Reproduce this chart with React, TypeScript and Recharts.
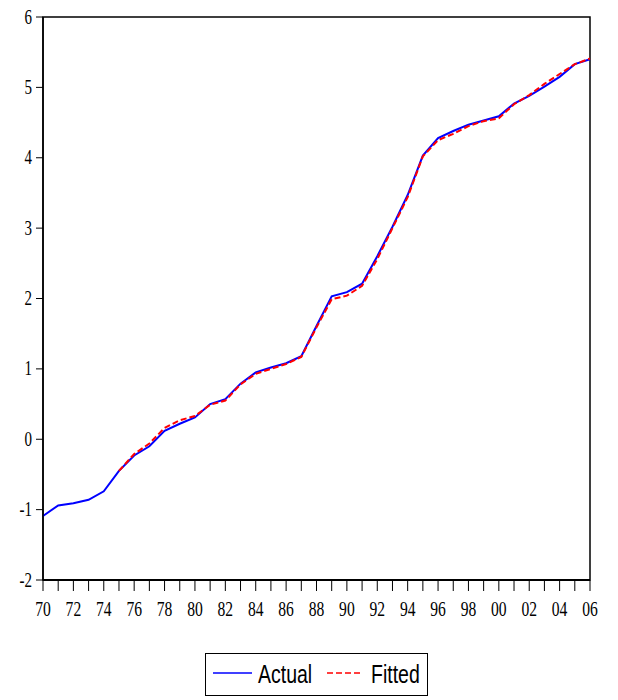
import { Legend, Line, LineChart, ReferenceArea, XAxis, YAxis } from "recharts";

const years = [
    1970, 1971, 1972, 1973, 1974, 1975, 1976, 1977, 1978, 1979,
    1980, 1981, 1982, 1983, 1984, 1985, 1986, 1987, 1988, 1989,
    1990, 1991, 1992, 1993, 1994, 1995, 1996, 1997, 1998, 1999,
    2000, 2001, 2002, 2003, 2004, 2005, 2006,
];

const actual = [
    -1.09, -0.94, -0.91, -0.86, -0.74, -0.45, -0.23, -0.10, 0.12, 0.22,
    0.31, 0.50, 0.57, 0.79, 0.95, 1.02, 1.08, 1.18, 1.61, 2.03,
    2.09, 2.21, 2.60, 3.02, 3.47, 4.03, 4.28, 4.38, 4.47, 4.53,
    4.59, 4.77, 4.88, 5.01, 5.15, 5.33, 5.40,
];

const fitted: (number | null)[] = [
    null, null, null, null, null, -0.45, -0.21, -0.06, 0.16, 0.27,
    0.33, 0.49, 0.55, 0.78, 0.93, 1.00, 1.07, 1.17, 1.59, 1.99,
    2.04, 2.18, 2.56, 3.00, 3.44, 4.02, 4.25, 4.34, 4.45, 4.52,
    4.56, 4.76, 4.89, 5.05, 5.19, 5.33, 5.41,
];

const yTicks = [-2, -1, 0, 1, 2, 3, 4, 5, 6];

const data = years.map((year, i) => ({ year, actual: actual[i], fitted: fitted[i] }));

const serif = "'Liberation Serif', 'Times New Roman', serif";
const sans = "'Liberation Sans', Arial, sans-serif";

const XTick = ({ x, y, payload }: any) => {
    const yr = payload.value as number;
    return (
        <g>
            <line x1={x} x2={x} y1={y} y2={y + 11} stroke="#000" strokeWidth={1} />
            {yr % 2 === 0 && (
                <text
                    transform={`translate(${x},${y + 36}) scale(0.78,1)`}
                    textAnchor="middle"
                    fontFamily={serif}
                    fontSize={20}
                    fill="#000"
                >
                    {String(yr % 100).padStart(2, "0")}
                </text>
            )}
        </g>
    );
};

const YTick = ({ x, y, payload }: any) => (
    <text
        transform={`translate(${x - 2},${y + 6.5}) scale(0.75,1)`}
        textAnchor="end"
        fontFamily={serif}
        fontSize={20}
        fill="#000"
    >
        {payload.value}
    </text>
);

const LegendBox = () => (
    <svg width={224} height={44}>
        <rect x={0.5} y={0.5} width={222} height={42} fill="#fff" stroke="#000" strokeWidth={1} />
        <line x1={8} x2={47} y1={20} y2={20} stroke="#0000ff" strokeWidth={1.5} />
        <text transform="translate(53,30) scale(0.75,1)" fontFamily={sans} fontSize={26} fill="#000">Actual</text>
        <line x1={122} x2={158} y1={20} y2={20} stroke="#ff0000" strokeWidth={1.5} strokeDasharray="6 3" />
        <text transform="translate(166,30) scale(0.75,1)" fontFamily={sans} fontSize={26} fill="#000">Fitted</text>
    </svg>
);

export default function App() {
    return (
        <div style={{ position: "absolute", left: 0, top: 0, width: 618, height: 700, background: "#fff" }}>
            <LineChart width={618} height={700} data={data} margin={{ top: 17, right: 28, left: 0, bottom: 80 }}>
                <XAxis
                    dataKey="year"
                    type="number"
                    domain={[1970, 2006]}
                    ticks={years}
                    interval={0}
                    height={40}
                    tickLine={false}
                    tickSize={0}
                    tickMargin={0}
                    tick={<XTick />}
                    axisLine={{ stroke: "#000", strokeWidth: 2 }}
                />
                <YAxis
                    type="number"
                    domain={[-2, 6]}
                    ticks={yTicks}
                    interval={0}
                    width={43}
                    tickSize={7}
                    tickLine={{ stroke: "#000", strokeWidth: 1 }}
                    tick={<YTick />}
                    axisLine={{ stroke: "#000", strokeWidth: 1.5 }}
                />
                <ReferenceArea x1={1970} x2={2006} y1={-2} y2={6} fill="none" stroke="#000" strokeWidth={1.5} />
                <Line
                    dataKey="actual"
                    name="Actual"
                    stroke="#0000ff"
                    strokeWidth={2}
                    dot={false}
                    isAnimationActive={false}
                />
                <Line
                    dataKey="fitted"
                    name="Fitted"
                    stroke="#ff0000"
                    strokeWidth={2}
                    strokeDasharray="6 3"
                    dot={false}
                    isAnimationActive={false}
                />
                <Legend
                    layout="horizontal"
                    verticalAlign="middle"
                    align="center"
                    content={<LegendBox />}
                    wrapperStyle={{ left: 205, top: 653, width: 224, height: 44 }}
                />
            </LineChart>
        </div>
    );
}
